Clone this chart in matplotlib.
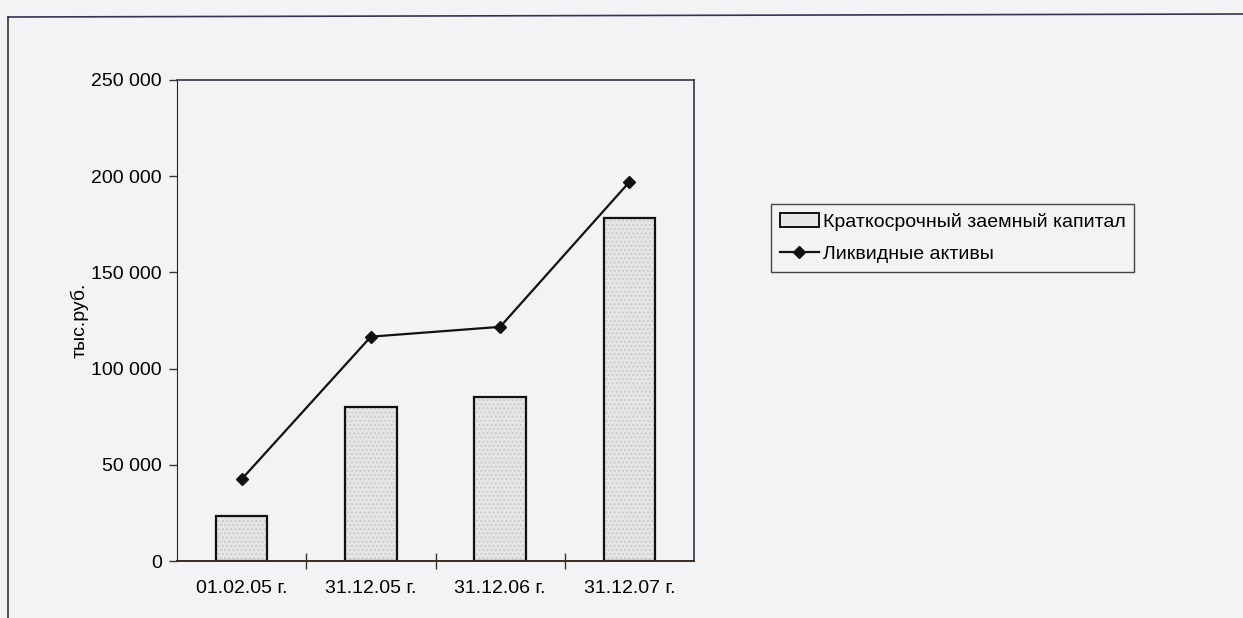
import matplotlib.pyplot as plt
from matplotlib.lines import Line2D

dates = ['01.02.05 г.', '31.12.05 г.', '31.12.06 г.', '31.12.07 г.']
short_debt = [23200, 80000, 85400, 178200]
liquid_assets = [42500, 116600, 121700, 197000]
y_ticks = [0, 50000, 100000, 150000, 200000, 250000]

plt.rcParams['font.family'] = ['Liberation Sans', 'DejaVu Sans']

bg = '#f3f3f5'
fig = plt.figure(figsize=(12.43, 6.18), dpi=100, facecolor=bg)
ax = fig.add_axes([177 / 1243, 1 - 561 / 618, 517 / 1243, 481 / 618], facecolor=bg)

x = range(len(dates))
# dotted fill, then the black outline on top
ax.bar(x, short_debt, width=0.4, color='#e6e6e8', edgecolor='#cbcbcd',
       linewidth=0, hatch='....', zorder=2)
ax.bar(x, short_debt, width=0.4, facecolor='none', edgecolor='#111111',
       linewidth=1.6, zorder=2)
ax.plot(x, liquid_assets, color='#111111', linewidth=1.6, marker='D',
        markersize=6.5, zorder=3)

ax.set_xlim(-0.5, 3.5)
ax.set_ylim(0, 250000)
ax.set_yticks(y_ticks)
ax.set_yticklabels([f'{v:,}'.replace(',', ' ') for v in y_ticks], fontsize=14)
ax.set_xticks(list(x))
ax.set_xticklabels(dates, fontsize=14)
ax.tick_params(axis='x', length=0, pad=14)
ax.set_xticks([0.5, 1.5, 2.5], minor=True)
ax.tick_params(axis='x', which='minor', direction='inout', length=12, width=1, color='#333333')
ax.tick_params(axis='y', direction='out', length=6, width=1, color='#333333', pad=5)

for s in ['top', 'right']:
    ax.spines[s].set_linestyle((0, (1, 1)))
    ax.spines[s].set_color('#333344')
    ax.spines[s].set_linewidth(1.2)
ax.spines['left'].set_color('#222222')
ax.spines['bottom'].set_color('#3a2a20')
ax.spines['bottom'].set_linewidth(1.4)

ax.set_ylabel('тыс.руб.', fontsize=14, labelpad=2)

handles = [plt.Rectangle((0, 0), 1, 1, facecolor='#e6e6e8', edgecolor='#111111', linewidth=1.4),
           Line2D([], [], color='#111111', linewidth=1.6, marker='D', markersize=6)]
fig.legend(handles, ['Краткосрочный заемный капитал', 'Ликвидные активы'],
           loc='upper left', bbox_to_anchor=(771 / 1243, 1 - 204 / 618),
           fontsize=14, frameon=True, fancybox=False, edgecolor='#444444',
           facecolor=bg, framealpha=1, handlelength=2.0, handleheight=0.7,
           borderpad=0.45, labelspacing=0.75, handletextpad=0.2, borderaxespad=0)

# outer chart border
fig.add_artist(Line2D([8 / 1243, 1], [1 - 17 / 618, 1 - 14 / 618], color='#333355', linewidth=1.2))
fig.add_artist(Line2D([8 / 1243, 8 / 1243], [1 - 17 / 618, 0], color='#333333', linewidth=1.2))

fig.savefig('out.png', dpi=100, facecolor=bg)
